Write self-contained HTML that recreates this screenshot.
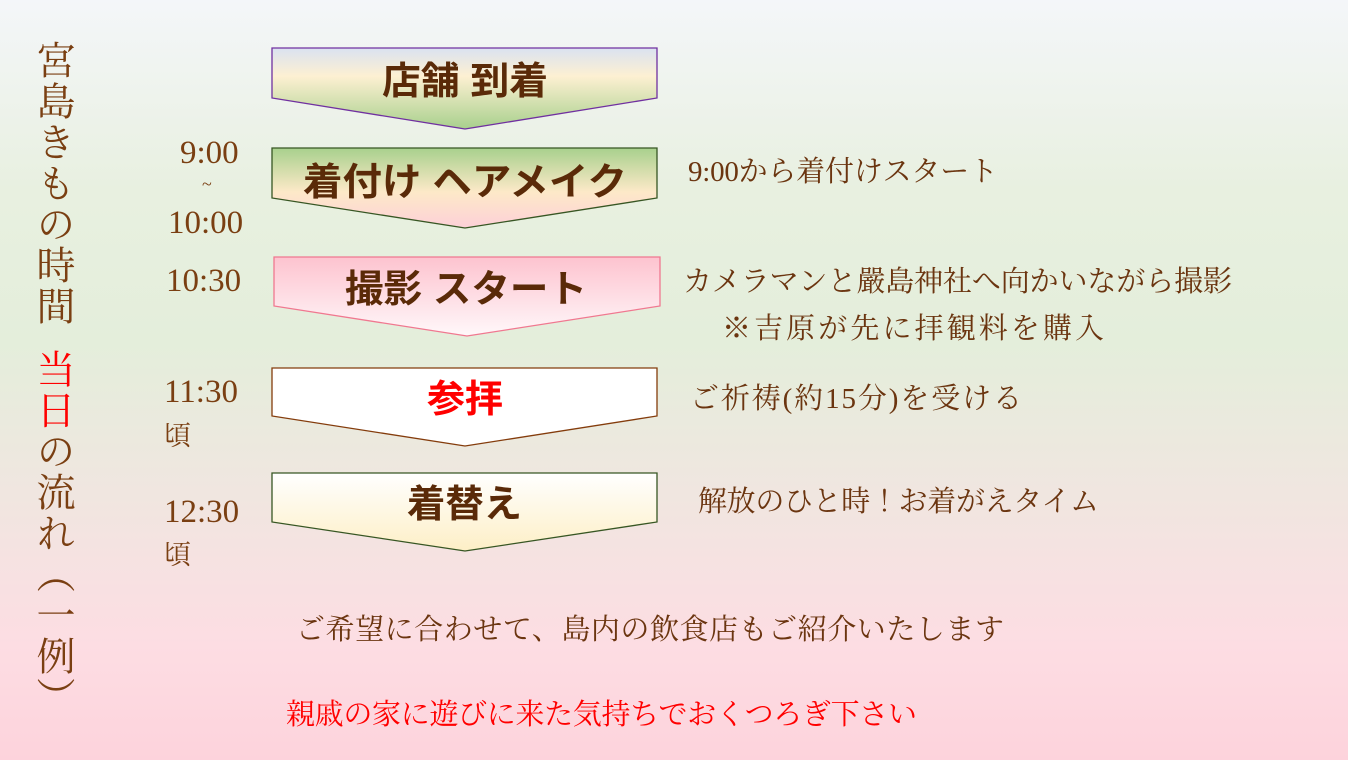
<!DOCTYPE html>
<html><head><meta charset="utf-8"><style>
html,body{margin:0;padding:0}
body{width:1348px;height:760px;overflow:hidden;position:relative;background:linear-gradient(to bottom,#f4f6f9 0%,#e8f0e0 25%,#e4eedb 45%,#f0e6e0 65%,#fddde3 85%,#fdd3dc 100%)}
svg{position:absolute;left:0;top:0}
.t{font-family:"Liberation Serif","Noto Serif CJK JP",serif;fill:#7a3f12}
.b{font-family:"Liberation Sans","Noto Sans CJK JP",sans-serif;font-weight:bold;fill:#5a2a08}
.r{font-family:"Liberation Serif","Noto Serif CJK JP",serif;fill:#6b3510;font-size:29px}
.v{position:absolute;left:35px;top:40px;writing-mode:vertical-rl;font-family:"Noto Serif CJK JP",serif;font-size:39px;line-height:42px;letter-spacing:2px;color:#7a3f12;white-space:nowrap}
</style></head><body>
<svg width="1348" height="760" viewBox="0 0 1348 760">
<defs>
<linearGradient id="g1" x1="0" y1="0" x2="0" y2="1"><stop offset="0" stop-color="#dae2f1"/><stop offset="0.35" stop-color="#fdf0d2"/><stop offset="1" stop-color="#a8d08d"/></linearGradient>
<linearGradient id="g2" x1="0" y1="0" x2="0" y2="1"><stop offset="0" stop-color="#a8d08d"/><stop offset="0.55" stop-color="#fde9c8"/><stop offset="1" stop-color="#fdd0d8"/></linearGradient>
<linearGradient id="g3" x1="0" y1="0" x2="0" y2="1"><stop offset="0" stop-color="#fdc3cf"/><stop offset="1" stop-color="#fff8fa"/></linearGradient>
<linearGradient id="g5" x1="0" y1="0" x2="0" y2="1"><stop offset="0" stop-color="#ffffff"/><stop offset="1" stop-color="#fdefc6"/></linearGradient>
</defs>
<polygon points="272,48 657,48 657,98 465,129 272,98" fill="url(#g1)" stroke="#7030a0" stroke-width="1.3"/>
<polygon points="272,148 657,148 657,198 465,228 272,198" fill="url(#g2)" stroke="#375623" stroke-width="1.3"/>
<polygon points="274,257 660,257 660,306 467,336 274,306" fill="url(#g3)" stroke="#f07890" stroke-width="1.3"/>
<polygon points="272,368 657,368 657,416 465,446 272,416" fill="#fff" stroke="#843c0c" stroke-width="1.3"/>
<polygon points="272,473 657,473 657,522 465,551 272,522" fill="url(#g5)" stroke="#375623" stroke-width="1.3"/>
<text class="b" x="382" y="94" font-size="38" textLength="166" lengthAdjust="spacingAndGlyphs">店舗 到着</text>
<text class="b" x="303" y="195" font-size="38" textLength="324" lengthAdjust="spacingAndGlyphs">着付け ヘアメイク</text>
<text class="b" x="345" y="302" font-size="38" textLength="242" lengthAdjust="spacingAndGlyphs">撮影 スタート</text>
<text class="b" x="427" y="412" font-size="38" textLength="76" lengthAdjust="spacingAndGlyphs" style="fill:#f00">参拝</text>
<text class="b" x="407" y="517" font-size="38" textLength="115" lengthAdjust="spacingAndGlyphs">着替え</text>
<g class="t" font-size="33">
<text x="180" y="163">9:00</text>
<text x="202" y="190" font-size="18">~</text>
<text x="168" y="233">10:00</text>
<text x="166" y="291">10:30</text>
<text x="164" y="402">11:30</text>
<text x="164" y="445" font-size="27">頃</text>
<text x="164" y="522">12:30</text>
<text x="164" y="564" font-size="27">頃</text>
</g>
<text class="r" x="688" y="181" textLength="310">9:00から着付けスタート</text>
<text class="r" x="683" y="291" textLength="549">カメラマンと嚴島神社へ向かいながら撮影</text>
<text class="r" x="722" y="338" textLength="382">※吉原が先に拝観料を購入</text>
<text class="r" x="690" y="408" textLength="332">ご祈祷(約15分)を受ける</text>
<text class="r" x="698" y="511" textLength="401">解放のひと時！お着がえタイム</text>
<text class="r" x="296" y="639" textLength="708">ご希望に合わせて、島内の飲食店もご紹介いたします</text>
<text class="r" x="286" y="724" textLength="631" style="fill:#f00">親戚の家に遊びに来た気持ちでおくつろぎ下さい</text>
</svg>
<div class="v">宮島きもの時間<span style="display:inline-block;height:22px"></span><span style="color:#f00">当日</span>の流れ（一例）</div>
</body></html>
